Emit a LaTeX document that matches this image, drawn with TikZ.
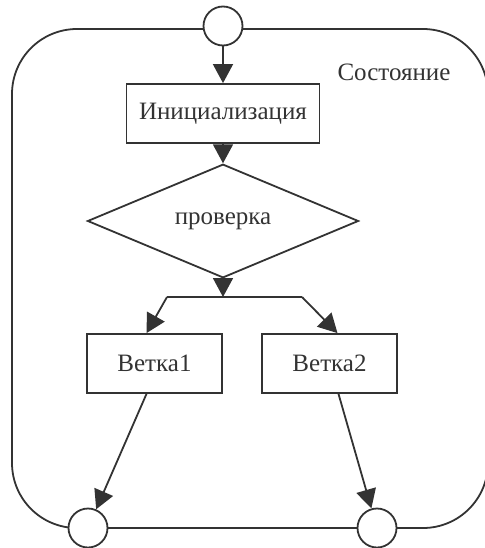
\documentclass[tikz,border=0pt]{standalone}
\usepackage{fontspec}
\setmainfont{Liberation Serif}
\usetikzlibrary{shapes.geometric,arrows.meta}
\definecolor{ink}{HTML}{333333}

\begin{document}
\begin{tikzpicture}[x=1pt, y=-1pt,
    every node/.style={font=\fontsize{25}{30}\selectfont, text=ink},
    box/.style={draw=ink, line width=1.8pt, fill=white, inner sep=0pt},
    port/.style={circle, draw=ink, line width=1.8pt, fill=white, minimum size=39pt, inner sep=0pt},
    arr/.style={draw=ink, line width=1.8pt, -{Triangle[length=19pt,width=20pt]}}]
    \useasboundingbox (0,0) rectangle (484,548);
    % frame of the state
    \draw[ink, line width=1.8pt, rounded corners=65pt] (12,29) rectangle (488,528);
    \node (state) at (394,72) {Состояние};

    \node[port] (start) at (223,26) {};
    \node[box, minimum width=193pt, minimum height=59pt] (init) at (223,113.5) {Инициализация};
    \node[box, diamond, minimum width=271pt, minimum height=77pt] (check) at (223,221) {проверка};
    \node[box, minimum width=135pt, minimum height=59pt] (b1) at (154.5,363.5) {Ветка1};
    \node[box, minimum width=135pt, minimum height=59pt] (b2) at (329.5,363.5) {Ветка2};
    \node[port] (e1) at (88,528) {};
    \node[port] (e2) at (377,528) {};

    \coordinate (fork) at (223,297);
    \coordinate (forkL) at (167,297);
    \coordinate (forkR) at (302,297);

    \draw[arr] (start) -- (init);
    \draw[arr] (init) -- (check);
    \draw[arr] (check) -- (fork);
    \draw[ink, line width=1.8pt] (forkL) -- (forkR);
    \draw[arr] (forkL) -- ([xshift=-8pt]b1.north);
    \draw[arr] (forkR) -- ([xshift=8pt]b2.north);
    \draw[arr] ([xshift=-8pt]b1.south) -- (e1);
    \draw[arr] ([xshift=9pt]b2.south) -- (e2);
  \end{tikzpicture}
\end{document}
